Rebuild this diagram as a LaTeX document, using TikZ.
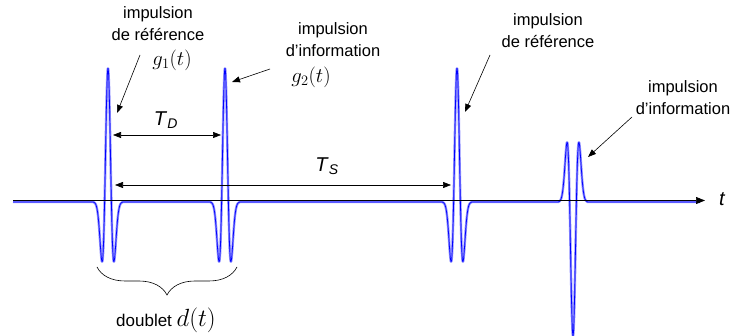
\documentclass[tikz,border=0pt]{standalone}
\usepackage{fontspec}
\setmainfont{Liberation Sans}
\usetikzlibrary{arrows.meta, decorations.pathreplacing}

\begin{document}
\begin{tikzpicture}[
    x=1pt, y=1pt,
    lbl/.style = {align=center, inner sep=0pt, font=\fontsize{16.5}{22}\selectfont},
    mth/.style = {inner sep=0pt, font=\fontsize{22}{24}\selectfont},
    dur/.style = {inner sep=0pt, font=\fontsize{20}{22}\selectfont},
    sig/.style = {blue!45, line width=2.4pt, line join=round,
                  postaction={draw, blue, line width=0.7pt}},
    axis/.style = {-{Triangle[length=9pt, width=7pt]}, line width=0.6pt, black},
    arr/.style = {-{Triangle[length=8pt, width=6pt]}, line width=0.6pt, black},
    darr/.style = {{Triangle[length=8pt, width=6pt]}-{Triangle[length=8pt, width=6pt]},
                   line width=0.6pt, black},
    brace/.style = {decorate, decoration={brace, amplitude=28pt, mirror}, line width=0.6pt},
]
\useasboundingbox (0,-134) rectangle (738,202);

%% ---- Signal: two doublets (reference + information pulse) ----
\draw[sig] (13,0) foreach \c/\s in {108/1, 225/1, 457/1, 573/-1} {
    -- plot[variable=\u, domain=-4.3:4.3, samples=90, smooth]
        ({\c+3.4*\u}, {\s*134*(1-\u*\u)*exp(-\u*\u/2)})
  } -- (700,0);

%% ---- Time axis ----
\coordinate (orig) at (13,1.5);
\coordinate (tend) at (705,1.5);
\draw[axis] (orig) -- (tend);
\node[inner sep=0pt, font=\fontsize{20}{22}\selectfont\itshape] (tlab) at (722,3) {t};

%% ---- Labels of the pulses ----
\node[lbl] (ref1) at (158,178) {impulsion\\de référence};
\node[mth] (g1)   at (172,142) {$g_1(t)$};
\node[lbl] (inf1) at (333,162) {impulsion\\d’information};
\node[mth] (g2)   at (311,125) {$g_2(t)$};
\node[lbl] (ref2) at (548,171) {impulsion\\de référence};
\node[lbl] (inf2) at (683,104) {impulsion\\d’information};

%% ---- Pointers to the pulses ----
\coordinate (a1s) at (140,147);  \coordinate (a1e) at (117,89);
\coordinate (a2s) at (270,133);  \coordinate (a2e) at (232,120);
\coordinate (a3s) at (490,147);  \coordinate (a3e) at (465,90);
\coordinate (a4s) at (632,85);   \coordinate (a4e) at (588,45);
\draw[arr] (a1s) -- (a1e);
\draw[arr] (a2s) -- (a2e);
\draw[arr] (a3s) -- (a3e);
\draw[arr] (a4s) -- (a4e);

%% ---- Durations T_D and T_S ----
\coordinate (d1) at (113,67);   \coordinate (d2) at (221,67);
\coordinate (s1) at (115,17);   \coordinate (s2) at (451,17);
\draw[darr] (d1) -- (d2);
\draw[darr] (s1) -- (s2);
\node[dur] (TD) at (166,82) {\textit{T}\textsubscript{\textit{D}}};
\node[dur] (TS) at (327,36) {\textit{T}\textsubscript{\textit{S}}};

%% ---- Doublet brace ----
\coordinate (b1) at (97,-65);   \coordinate (b2) at (237,-65);
\draw[brace] (b1) -- (b2);
\node[inner sep=0pt, font=\fontsize{17}{20}\selectfont] (doub) at (166,-118)
    {doublet \fontsize{23}{24}\selectfont$d(t)$};

\end{tikzpicture}
\end{document}
